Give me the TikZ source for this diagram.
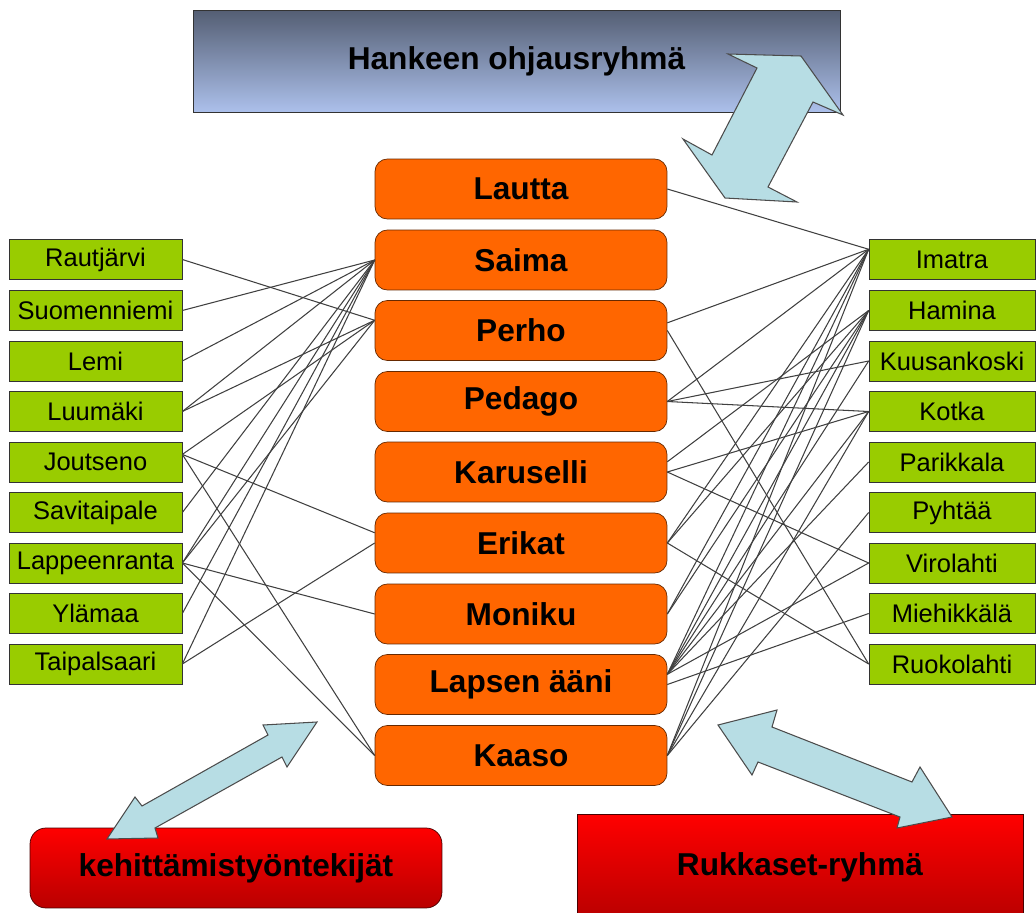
\documentclass[tikz,border=0pt]{standalone}
\usepackage{fontspec}
\setmainfont{Liberation Sans}
\usepackage{tikz}
\definecolor{kuntagreen}{RGB}{153,204,0}
\definecolor{hankeorange}{RGB}{255,102,0}
\definecolor{nuolisini}{RGB}{183,221,228}
\definecolor{ohjaustop}{RGB}{84,94,115}
\definecolor{ohjausbot}{RGB}{172,192,235}
\definecolor{punainen}{RGB}{255,0,0}
\definecolor{tummapun}{RGB}{185,0,0}

\begin{document}
\begin{tikzpicture}
        [x=0.02cm, y=-0.02cm,
        kstyle/.style={draw=black!80, fill=kuntagreen, inner sep=0pt, minimum height=0.8cm, font=\fontsize{14.5}{16}\selectfont},
        lkstyle/.style={kstyle, minimum width=3.46cm},
        rkstyle/.style={kstyle, minimum width=3.32cm},
        hstyle/.style={draw=black!60!hankeorange, fill=hankeorange, rounded corners=7pt, minimum width=5.84cm, minimum height=1.2cm, font=\fontsize{18}{21}\selectfont\bfseries},
        rstyle/.style={draw=black!60!tummapun, top color=punainen, bottom color=tummapun, font=\fontsize{18}{21}\selectfont\bfseries},
        cstyle/.style={draw=black!75, line width=0.6pt},
        astyle/.style={draw=black!70, fill=nuolisini, line width=0.6pt, line join=miter}]

        \useasboundingbox (0,0) rectangle (1036,913);

        % ohjausryhma
        \node[draw=black!80, top color=ohjaustop, bottom color=ohjausbot, minimum width=12.94cm, minimum height=2.04cm, font=\fontsize{18}{21}\selectfont\bfseries] (ohjaus) at (516.5,61) {Hankeen ohjausryhmä};

        % hankkeet
        \node[hstyle] (lautta)    at (521,189)   {Lautta};
        \node[hstyle] (saima)     at (521,260)   {Saima};
        \node[hstyle] (perho)     at (521,330.5) {Perho};
        \node[hstyle] (pedago)    at (521,401.5) {Pedago};
        \node[hstyle] (karuselli) at (521,472)   {Karuselli};
        \node[hstyle] (erikat)    at (521,543)   {Erikat};
        \node[hstyle] (moniku)    at (521,614)   {Moniku};
        \node[hstyle] (lapsen)    at (521,684.5) {Lapsen ääni};
        \node[hstyle] (kaaso)     at (521,755.5) {Kaaso};

        % kunnat vasemmalla
        \node[lkstyle] (rautjarvi)    at (95.5,259.5) {Rautjärvi};
        \node[lkstyle] (suomenniemi)  at (95.5,310.5) {Suomenniemi};
        \node[lkstyle] (lemi)         at (95.5,361)   {Lemi};
        \node[lkstyle] (luumaki)      at (95.5,411.5) {Luumäki};
        \node[lkstyle] (joutseno)     at (95.5,462)   {Joutseno};
        \node[lkstyle] (savitaipale)  at (95.5,512.5) {Savitaipale};
        \node[lkstyle] (lappeenranta) at (95.5,563)   {Lappeenranta};
        \node[lkstyle] (ylamaa)       at (95.5,613.5) {Ylämaa};
        \node[lkstyle] (taipalsaari)  at (95.5,664)   {Taipalsaari};

        % kunnat oikealla
        \node[rkstyle] (imatra)      at (952,259.5) {Imatra};
        \node[rkstyle] (hamina)      at (952,310.5) {Hamina};
        \node[rkstyle] (kuusankoski) at (952,361)   {Kuusankoski};
        \node[rkstyle] (kotka)       at (952,411.5) {Kotka};
        \node[rkstyle] (parikkala)   at (952,462)   {Parikkala};
        \node[rkstyle] (pyhtaa)      at (952,512.5) {Pyhtää};
        \node[rkstyle] (virolahti)   at (952,563)   {Virolahti};
        \node[rkstyle] (miehikkala)  at (952,613.5) {Miehikkälä};
        \node[rkstyle] (ruokolahti)  at (952,664)   {Ruokolahti};

        % ryhmat alhaalla
        \node[rstyle, rounded corners=9pt, minimum width=8.24cm, minimum height=1.6cm] (kehittajat) at (236,868) {kehittämistyöntekijät};
        \node[rstyle, minimum width=8.92cm, minimum height=2.1cm] (rukkaset) at (800,867) {Rukkaset-ryhmä};

        % yhteydet vasemmalla
        \draw[cstyle] (rautjarvi.east) -- (perho.176);
        \draw[cstyle] (suomenniemi.east) -- (saima.west);
        \draw[cstyle] (lemi.east) -- (saima.west);
        \draw[cstyle] (luumaki.east) -- (saima.west);
        \draw[cstyle] (luumaki.east) -- (perho.176);
        \draw[cstyle] (joutseno.5) -- (perho.176);
        \draw[cstyle] (joutseno.5) -- (erikat.176);
        \draw[cstyle] (joutseno.5) -- (kaaso.west);
        \draw[cstyle] (savitaipale.east) -- (saima.west);
        \draw[cstyle] (lappeenranta.east) -- (saima.west);
        \draw[cstyle] (lappeenranta.east) -- (perho.176);
        \draw[cstyle] (lappeenranta.east) -- (moniku.west);
        \draw[cstyle] (lappeenranta.east) -- (kaaso.west);
        \draw[cstyle] (ylamaa.east) -- (saima.west);
        \draw[cstyle] (taipalsaari.east) -- (saima.west);
        \draw[cstyle] (taipalsaari.east) -- (erikat.west);

        % yhteydet oikealla
        \draw[cstyle] (lautta.east) -- (imatra.173);
        \draw[cstyle] (perho.3) -- (imatra.173);
        \draw[cstyle] (perho.east) -- (ruokolahti.west);
        \draw[cstyle] (pedago.east) -- (imatra.173);
        \draw[cstyle] (pedago.east) -- (kuusankoski.west);
        \draw[cstyle] (pedago.east) -- (kotka.west);
        \draw[cstyle] (karuselli.4) -- (hamina.west);
        \draw[cstyle] (karuselli.east) -- (kotka.west);
        \draw[cstyle] (karuselli.east) -- (virolahti.west);
        \draw[cstyle] (erikat.east) -- (imatra.173);
        \draw[cstyle] (erikat.east) -- (hamina.west);
        \draw[cstyle] (erikat.east) -- (ruokolahti.west);
        \draw[cstyle] (moniku.east) -- (imatra.173);
        \draw[cstyle] (moniku.east) -- (hamina.west);
        \draw[cstyle] (lapsen.4) -- (imatra.173);
        \draw[cstyle] (lapsen.4) -- (hamina.west);
        \draw[cstyle] (lapsen.4) -- (kuusankoski.west);
        \draw[cstyle] (lapsen.4) -- (kotka.west);
        \draw[cstyle] (lapsen.4) -- (parikkala.west);
        \draw[cstyle] (lapsen.4) -- (virolahti.west);
        \draw[cstyle] (lapsen.east) -- (miehikkala.west);
        \draw[cstyle] (kaaso.east) -- (imatra.173);
        \draw[cstyle] (kaaso.east) -- (hamina.west);
        \draw[cstyle] (kaaso.east) -- (kotka.west);
        \draw[cstyle] (kaaso.east) -- (pyhtaa.west);

        % nuolet
        \draw[astyle] (801,56) -- (843,115) -- (813,102) -- (768,187) -- (797,202) -- (725,198)
                -- (683,139) -- (712,155) -- (757,68) -- (728,54) -- cycle;
        \draw[astyle] (317,722) -- (287,767) -- (282,757) -- (155,828) -- (158,838) -- (107,839)
                -- (135,797) -- (142,806) -- (268,735) -- (263,725) -- cycle;
        \draw[astyle] (718,725) -- (777,710) -- (772,727) -- (912,782) -- (920,767) -- (952,817)
                -- (897,828) -- (900,817) -- (758,762) -- (752,775) -- cycle;
    \end{tikzpicture}
\end{document}
